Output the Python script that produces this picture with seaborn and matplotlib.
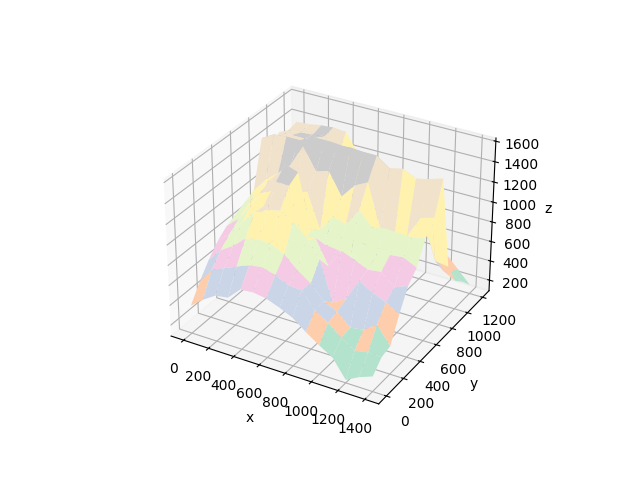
import numpy as np
import matplotlib
matplotlib.use('Agg')
import matplotlib.pyplot as plt
import seaborn as sns

sns.reset_orig()

x_vals = [0, 100, 200, 300, 400, 500, 600, 700, 800, 900, 1000, 1100, 1200, 1300, 1400]
y_vals = [0, 100, 200, 300, 400, 500, 600, 700, 800, 900, 1000, 1100, 1200]

# each row is one y value, left to right along x
z_vals = [
    [370, 470, 550, 570, 690, 700, 680, 630, 570, 470, 380, 300, 120, 190, 240],
    [536, 690, 745, 800, 850, 870, 830, 770, 760, 600, 518, 410, 327, 350, 345],
    [676, 810, 890, 1000, 1030, 1020, 955, 840, 750, 610, 550, 430, 450, 540, 370],
    [790, 900, 1050, 1180, 1240, 1270, 1200, 1085, 910, 520, 590, 810, 735, 680, 600],
    [867, 976, 1143, 1170, 1440, 1440, 920, 1005, 762, 950, 900, 843, 860, 748, 800],
    [914, 1038, 1187, 1250, 1543, 1500, 970, 867, 850, 810, 990, 914, 949, 962, 900],
    [962, 1105, 1248, 1290, 1190, 1240, 901, 1064, 1027, 1200, 1067, 1095, 1086, 1079, 1109],
    [1006, 1150, 1250, 1360, 1580, 1370, 1408, 1193, 1336, 1400, 980, 850, 980, 1197, 1235],
    [1460, 1530, 1540, 1540, 1581, 1590, 1590, 1600, 1590, 1590, 1500, 1530, 1470, 1500, 1540],
    [1320, 1320, 1320, 1340, 1400, 1420, 1430, 1420, 1400, 1300, 1200, 1100, 1000, 620, 600],
    [1390, 1390, 1390, 1430, 1430, 1420, 1400, 1350, 1250, 1100, 950, 850, 700, 450, 380],
    [1340, 1350, 1360, 1380, 1200, 1000, 950, 900, 850, 800, 750, 680, 530, 350, 290],
    [1360, 1370, 1390, 1400, 1390, 1200, 950, 850, 780, 700, 680, 600, 440, 310, 180],
]

X, Y = np.meshgrid(x_vals, y_vals)
Z = np.array(z_vals)

fig = plt.figure(figsize=(6.4, 4.8), dpi=100)
ax = fig.add_subplot(projection='3d')
ax.plot_surface(X, Y, Z, cmap='Pastel2', rstride=1, cstride=1, linewidth=0, antialiased=True)
ax.set_xlabel('x')
ax.set_ylabel('y')
ax.set_zlabel('z')
fig.savefig('out.png', dpi=100)
